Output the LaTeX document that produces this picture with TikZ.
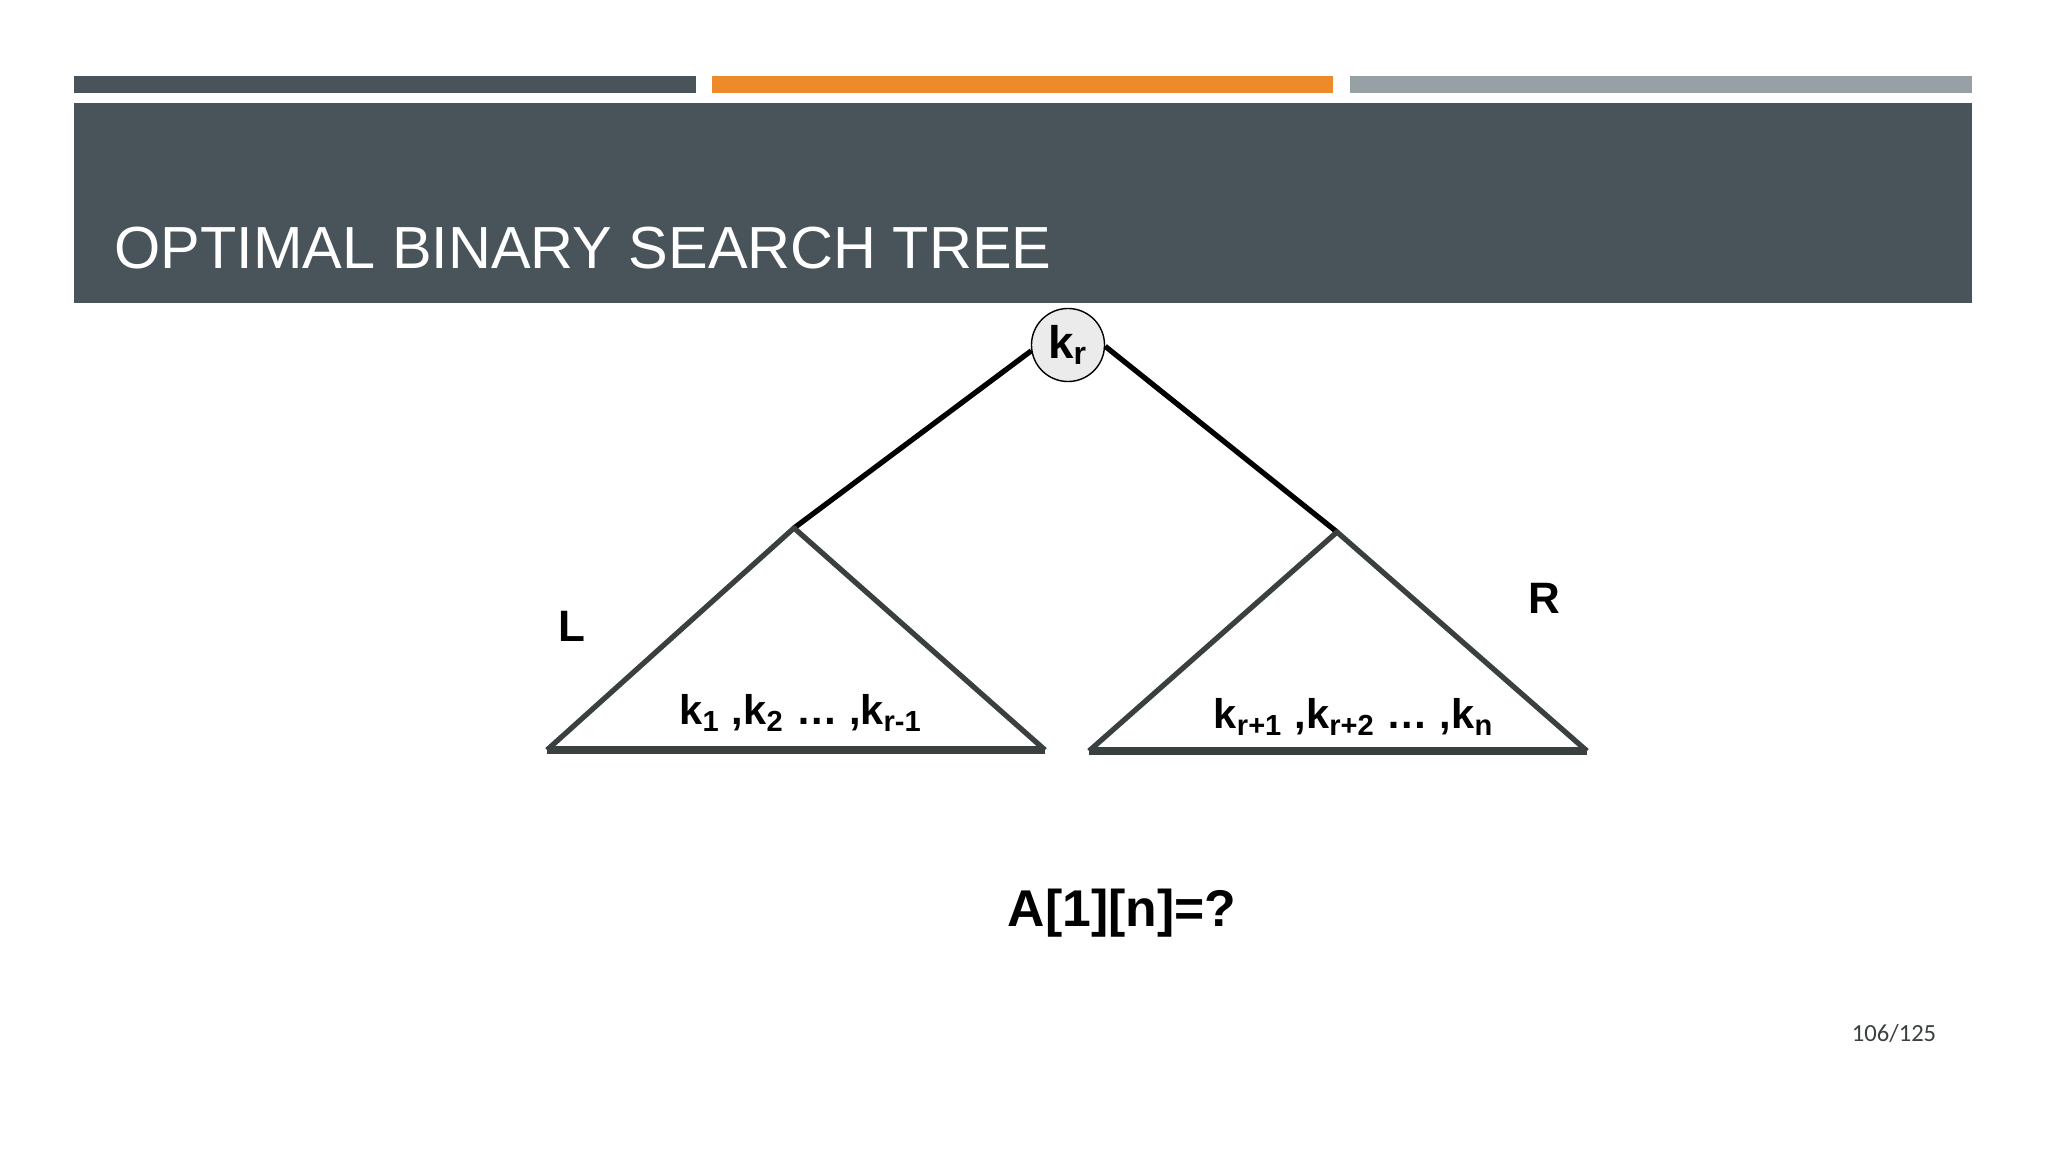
\documentclass[tikz,border=0pt]{standalone}
\usepackage{fontspec}
\setmainfont{Liberation Sans}
\newfontfamily\pagefont{Carlito}
\usetikzlibrary{positioning}

\definecolor{slate}{RGB}{72,83,90}
\definecolor{accent}{RGB}{237,138,42}
\definecolor{steel}{RGB}{151,160,164}
\definecolor{tri}{RGB}{58,63,63}
\definecolor{rootfill}{RGB}{235,235,235}

\tikzset{
  treeline/.style={line width=1.5pt,black},
  subtree/.style={line width=1.5pt,tri,line join=round},
  sidelabel/.style={font=\bfseries\fontsize{12.5}{14}\selectfont},
  keylabel/.style={font=\bfseries\fontsize{11.8}{14}\selectfont},
}

\begin{document}
\begin{tikzpicture}[x=0.01cm,y=-0.01cm]
   \useasboundingbox (0,0) rectangle (2048,1152);

   % header bars
   \fill[slate] (74,76) rectangle (696,93);
   \fill[accent] (712,76) rectangle (1333,93);
   \fill[steel] (1350,76) rectangle (1972,93);
   \fill[slate] (74,103) rectangle (1972,303);
   \node[anchor=base west,text=white,font=\fontsize{16.9}{20}\selectfont,inner sep=0pt] (title) at (114,269) {OPTIMAL BINARY SEARCH TREE};

   % root and subtrees
   \node[shape=circle,draw=black,fill=rootfill,minimum size=0.73cm,inner sep=0pt,font=\bfseries\fontsize{13}{15}\selectfont] (root) at (1068,345) {k\textsubscript{r}};
   \coordinate (la) at (794,528);
   \coordinate (lb) at (547,750);
   \coordinate (lc) at (1045,750);
   \coordinate (ra) at (1337,532);
   \coordinate (rb) at (1089,751);
   \coordinate (rc) at (1587,751);

   \path[treeline] (root.189) edge (la);
   \path[treeline] (root.358) edge (ra);

   \draw[subtree] (lb) -- (la) -- (lc);
   \draw[subtree,line width=2pt] (lb) -- (lc);
   \draw[subtree] (rb) -- (ra) -- (rc);
   \draw[subtree,line width=2pt] (rb) -- (rc);

   \node[keylabel] (lkeys) at (801,713) {k\textsubscript{1} ,k\textsubscript{2} … ,k\textsubscript{r-1}};
   \node[keylabel] (rkeys) at (1354,717) {k\textsubscript{r+1} ,k\textsubscript{r+2} … ,k\textsubscript{n}};
   \node[sidelabel] (L) at (572,626) {L};
   \node[sidelabel] (R) at (1544,598) {R};

   % question
   \node[font=\bfseries\fontsize{14.7}{17}\selectfont] (ask) at (1122,913) {A[1][n]=?};
   \node[font=\pagefont\fontsize{7}{9}\selectfont,text=tri] (page) at (1894,1033) {106/125};
\end{tikzpicture}
\end{document}
